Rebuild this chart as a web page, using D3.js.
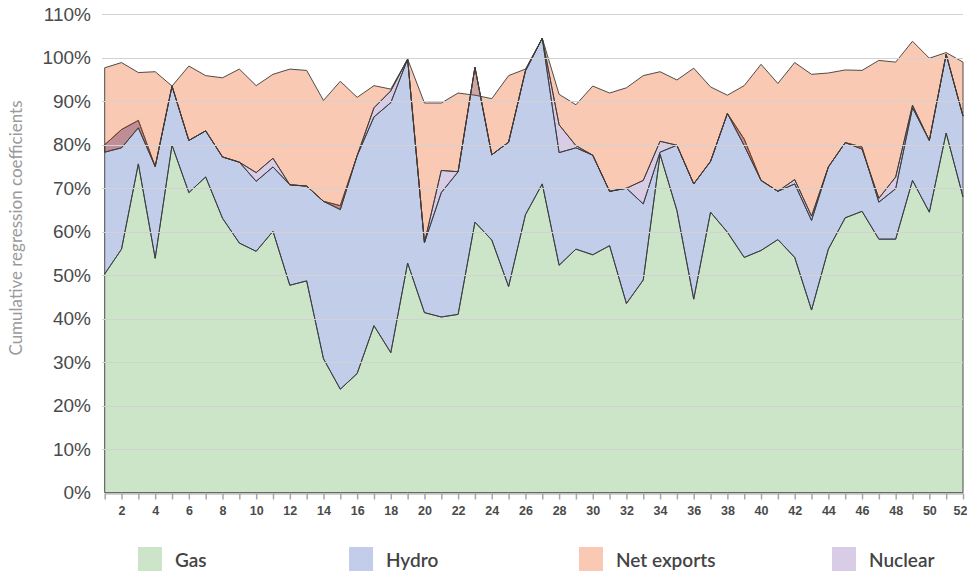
<!DOCTYPE html>
<html>
<head>
<meta charset="utf-8">
<script src="https://cdn.jsdelivr.net/npm/d3@7"></script>
<style>
  body { margin: 0; background: #fff; }
  svg { font-family: Lato, 'Open Sans', sans-serif; }
</style>
</head>
<body>
<svg width="967" height="573"></svg>
<script>
// weekly cumulative regression coefficients (percent), stacked in Excel style
const weeks = d3.range(1, 53)

const gas = [50.3, 56.0, 75.6, 53.9, 79.9, 69.0, 72.6, 63.1, 57.4, 55.5, 60.1, 47.7, 48.7,
  30.8, 23.8, 27.4, 38.4, 32.2, 52.8, 41.4, 40.4, 41.0, 62.2, 58.1, 47.4, 63.9,
  71.0, 52.3, 56.0, 54.7, 56.8, 43.5, 48.9, 77.8, 64.9, 44.5, 64.5, 59.9, 54.1,
  55.7, 58.2, 54.1, 42.0, 56.0, 63.2, 64.7, 58.3, 58.3, 71.8, 64.5, 82.7, 68.0]

const hydro = [29.7, 27.5, 10.0, 21.1, 13.6, 12.0, 10.6, 14.1, 18.6, 16.1, 14.8, 23.1, 21.8,
  36.2, 42.2, 50.1, 48.0, 57.5, 46.9, 16.1, 28.6, 32.8, 35.6, 19.6, 33.2, 33.1,
  33.5, 25.9, 23.3, 22.9, 12.5, 26.5, 17.5, 0.5, 15.0, 26.5, 11.7, 27.3, 27.2,
  16.1, 11.1, 16.9, 20.6, 18.9, 17.3, 14.8, 8.5, 11.6, 16.7, 16.5, 18.1, 18.6]

const nuclear = [-1.7, -4.2, -1.7, 0, 0, 0, 0, 0, 0, 2.0, 2.0, 0, 0,
  0, -0.9, 0, 2.1, 2.7, 0, 0, 5.1, 0, 0, 0, 0, 0,
  0, 6.4, 0.5, 0, 0, 0, 5.4, 2.5, 0, 0, 0, 0, -1.5,
  0, 0, 1.0, 1.0, 0, 0, -0.5, 0.9, 2.7, 0.6, 0, 0, 0]

const netExports = [19.4, 19.6, 12.7, 21.8, 0, 17.1, 12.7, 18.2, 21.4, 20.0, 19.3, 26.6, 26.6,
  23.2, 29.5, 13.4, 5.1, 0.4, 0, 32.1, 15.5, 18.1, -6.4, 12.9, 15.3, 0.4,
  0, 7.0, 9.4, 15.9, 22.6, 23.1, 24.1, 16.0, 15.0, 26.6, 17.1, 4.2, 13.8,
  26.7, 24.8, 26.9, 32.6, 21.6, 16.7, 18.1, 31.7, 26.4, 14.7, 18.9, 0.4, 12.4]

const yTicks = [0, 10, 20, 30, 40, 50, 60, 70, 80, 90, 100, 110]
const xLabels = [2, 4, 6, 8, 10, 12, 14, 16, 18, 20, 22, 24, 26, 28, 30, 32, 34, 36, 38, 40, 42, 44, 46, 48, 50, 52]

// stacking order (bottom to top) and legend order differ
const series = [
  { name: 'Gas', values: gas, color: 'rgb(85,168,75)' },
  { name: 'Hydro', values: hydro, color: 'rgb(52,88,182)' },
  { name: 'Nuclear', values: nuclear, color: 'rgb(125,85,172)' },
  { name: 'Net exports', values: netExports, color: 'rgb(235,75,2)' }
]
const legendOrder = ['Gas', 'Hydro', 'Net exports', 'Nuclear']
const legendX = [138, 349, 579, 832]

const svg = d3.select('svg')
const fillOpacity = 0.3

const x = d3.scaleLinear().domain([1, 52]).range([104.7, 963])
const y = d3.scaleLinear().domain([0, 110]).range([492.7, 14.3])

// cumulative bands: negative values fold back over the layer below
const base = weeks.map(() => 0)
series.forEach(s => {
  s.band = s.values.map((v, i) => {
    const b = [base[i], base[i] + v]
    base[i] += v
    return b
  })
})

const area = d3.area()
  .x((d, i) => x(weeks[i]))
  .y0(d => y(d[0]))
  .y1(d => y(d[1]))

svg.append('g')
  .selectAll('path')
  .data(series)
  .enter().append('path')
  .attr('d', d => area(d.band))
  .attr('fill', d => d.color)
  .attr('fill-opacity', fillOpacity)
  .attr('stroke', '#3a3a3a')
  .attr('stroke-width', 0.9)

// gridlines sit on top of the areas
svg.append('g')
  .selectAll('line')
  .data(yTicks.filter(d => d > 0))
  .enter().append('line')
  .attr('x1', 102)
  .attr('x2', 963)
  .attr('y1', d => Math.round(y(d)) + 0.5)
  .attr('y2', d => Math.round(y(d)) + 0.5)
  .attr('stroke', '#d2d2d2')
  .attr('stroke-width', 1)

const yAxis = svg.append('g')
  .attr('transform', 'translate(103,0)')
  .call(d3.axisLeft(y).tickValues(yTicks).tickSize(0).tickPadding(12).tickFormat(d => d + '%'))
yAxis.select('.domain').remove()
yAxis.selectAll('text')
  .attr('fill', '#4a4a4a')
  .style('font-size', '19px')

const xAxis = svg.append('g')
  .attr('transform', 'translate(0,' + (Math.round(y(0)) + 0.5) + ')')
  .call(d3.axisBottom(x).tickValues(weeks).tickSize(6).tickSizeOuter(0).tickPadding(7)
    .tickFormat(d => xLabels.includes(d) ? d : ''))
xAxis.select('.domain').attr('stroke', '#a6a6a6').attr('stroke-width', 1.2)
xAxis.selectAll('.tick line').attr('stroke', '#a6a6a6').attr('stroke-width', 1.5)
xAxis.selectAll('text')
  .attr('fill', '#4a4a4a')
  .style('font-size', '12.5px')
  .style('font-weight', 'bold')
// last label hugs the right edge, as in the original
xAxis.selectAll('.tick').filter(d => d === 52).select('text').attr('dx', '-3')

svg.append('text')
  .attr('transform', 'translate(22,228) rotate(-90)')
  .attr('text-anchor', 'middle')
  .attr('fill', '#9a9a9a')
  .style('font-size', '17px')
  .text('Cumulative regression coefficients')

const legend = svg.append('g')
  .selectAll('g')
  .data(legendOrder.map(n => series.find(s => s.name === n)))
  .enter().append('g')
  .attr('transform', (d, i) => 'translate(' + legendX[i] + ',547)')

legend.append('rect')
  .attr('width', 24)
  .attr('height', 24)
  .attr('fill', d => d.color)
  .attr('fill-opacity', fillOpacity)

legend.append('text')
  .attr('x', 37)
  .attr('y', 20)
  .attr('fill', '#444')
  .style('font-size', '19px')
  .style('font-weight', '600')
  .text(d => d.name)
</script>
</body>
</html>
